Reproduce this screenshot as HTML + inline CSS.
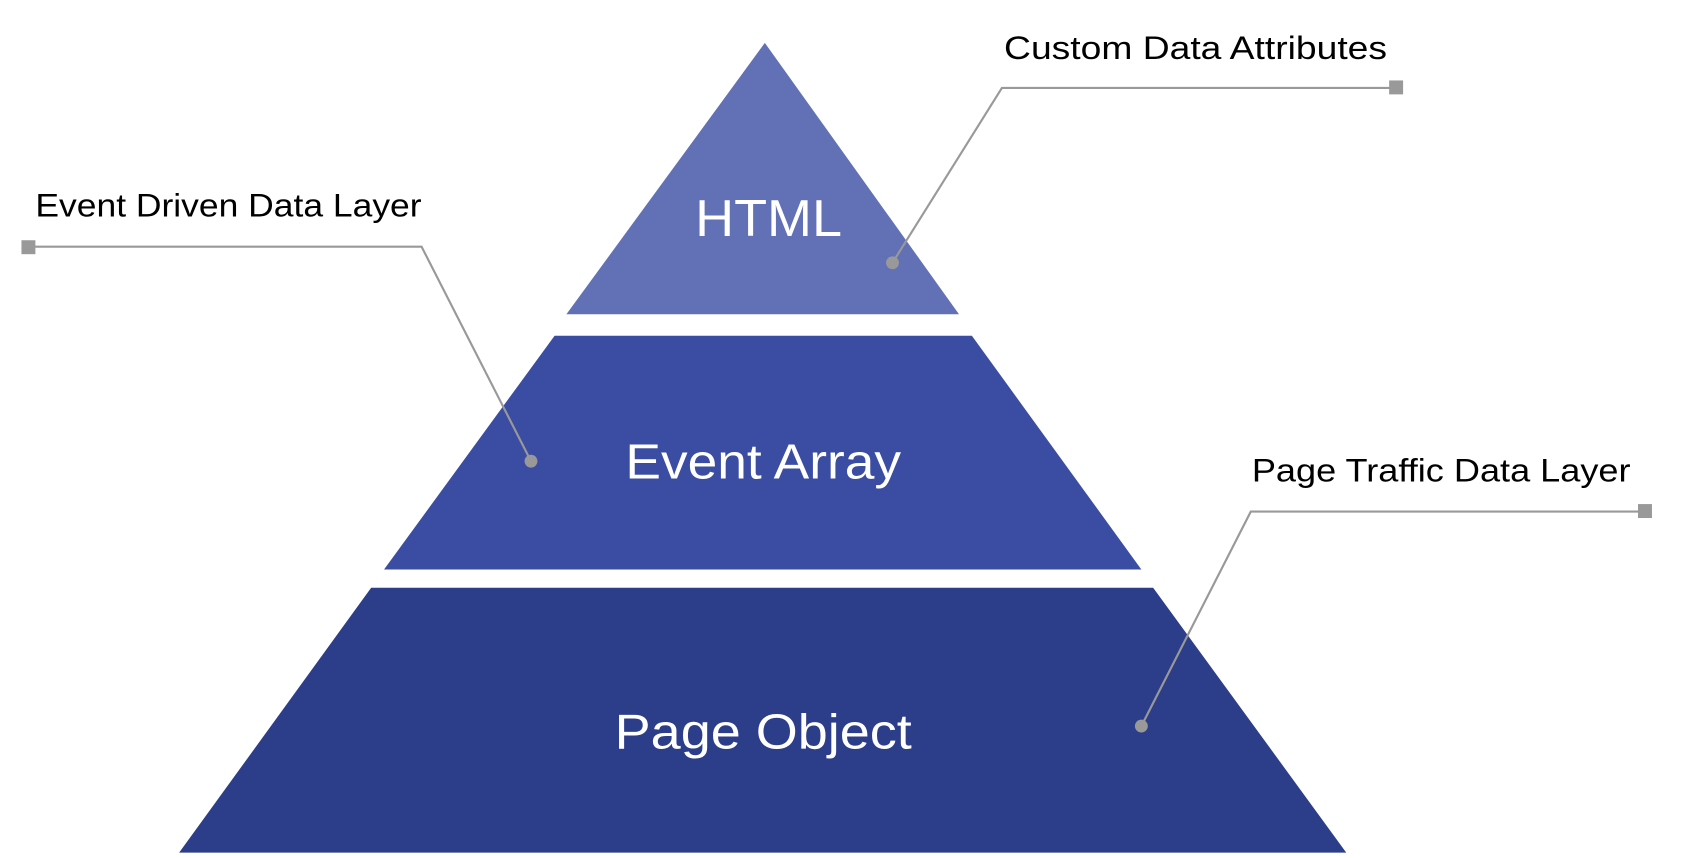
<!DOCTYPE html>
<html><head><meta charset="utf-8"><style>
html,body{margin:0;padding:0;background:#fff;}
svg{display:block;}
text{font-family:"Liberation Sans",sans-serif;}
</style></head><body>
<svg width="1682" height="858" viewBox="0 0 1568 800" preserveAspectRatio="none" xmlns="http://www.w3.org/2000/svg">
<rect width="1568" height="800" fill="#fff"/>
<polygon points="713,40 894,293 528,293" fill="#6270b5"/>
<polygon points="517,313 906,313 1064,531 358,531" fill="#3b4da3"/>
<polygon points="346,548 1075,548 1255,795 167,795" fill="#2c3d89"/>
<text x="648" y="220" font-size="48" fill="#fff" textLength="137" lengthAdjust="spacingAndGlyphs">HTML</text>
<text x="583" y="446" font-size="46" fill="#fff" textLength="257" lengthAdjust="spacingAndGlyphs">Event Array</text>
<text x="573" y="698" font-size="46" fill="#fff" textLength="277" lengthAdjust="spacingAndGlyphs">Page Object</text>
<g stroke="#999" stroke-width="2" fill="none">
<polyline points="832,245 934,82 1296,82"/>
<polyline points="27,230 393,230 495,430"/>
<polyline points="1064,677 1166,477 1528,477"/>
</g>
<g fill="#999">
<rect x="1295" y="75" width="13" height="13"/>
<rect x="20" y="224" width="13" height="13"/>
<rect x="1527" y="470" width="13" height="13"/>
<circle cx="832" cy="245" r="6"/>
<circle cx="495" cy="430" r="6"/>
<circle cx="1064" cy="677" r="6"/>
</g>
<text x="936" y="55" font-size="30" fill="#000" textLength="357" lengthAdjust="spacingAndGlyphs">Custom Data Attributes</text>
<text x="33" y="202" font-size="30" fill="#000" textLength="360" lengthAdjust="spacingAndGlyphs">Event Driven Data Layer</text>
<text x="1167" y="449" font-size="30" fill="#000" textLength="353" lengthAdjust="spacingAndGlyphs">Page Traffic Data Layer</text>
</svg>
</body></html>
